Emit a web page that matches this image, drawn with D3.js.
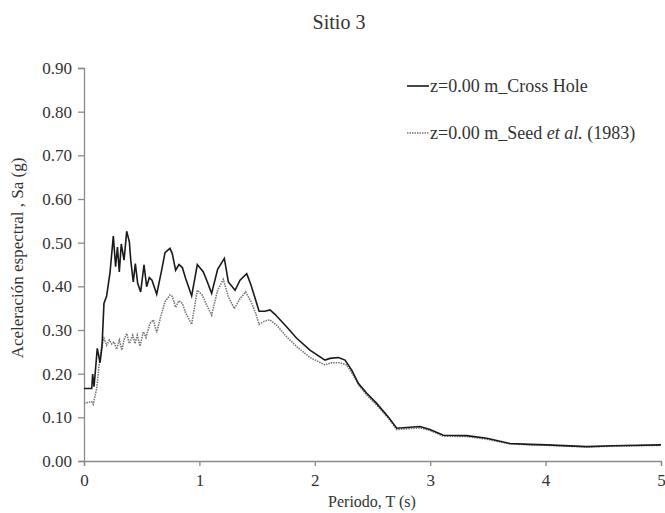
<!DOCTYPE html>
<html>
<head>
<meta charset="utf-8">
<script src="https://cdn.jsdelivr.net/npm/d3@7"></script>
<style>
  body { margin: 0; background: #fff; }
  svg text { font-family: "Liberation Serif", "DejaVu Serif", serif; fill: #333; }
</style>
</head>
<body>
<svg id="chart" width="665" height="513"></svg>
<script>
// Periodo T (s) and Sa (g)
const crossT = [0, 0.067, 0.075, 0.087, 0.115, 0.139, 0.156, 0.173, 0.196, 0.225, 0.254, 0.274, 0.29, 0.306, 0.323,
  0.347, 0.37, 0.393, 0.405, 0.427, 0.445, 0.465, 0.491, 0.52, 0.543, 0.566, 0.589, 0.63, 0.673, 0.702, 0.745,
  0.765, 0.794, 0.823, 0.852, 0.881, 0.933, 0.982, 1.034, 1.063, 1.106, 1.158, 1.216, 1.251, 1.309, 1.352, 1.41,
  1.447, 1.488, 1.517, 1.568, 1.612, 1.655, 1.757, 1.843, 1.958, 2.088, 2.132, 2.204, 2.262, 2.32, 2.377, 2.45,
  2.536, 2.637, 2.71, 2.912, 2.998, 3.114, 3.316, 3.49, 3.692, 3.865, 4.01, 4.356, 4.587, 5.0];
const crossSa = [0.166, 0.166, 0.199, 0.17, 0.258, 0.225, 0.262, 0.361, 0.378, 0.43, 0.515, 0.445, 0.49, 0.433, 0.497,
  0.46, 0.526, 0.502, 0.46, 0.41, 0.452, 0.407, 0.387, 0.449, 0.399, 0.42, 0.414, 0.382, 0.437, 0.477, 0.487,
  0.475, 0.437, 0.45, 0.443, 0.418, 0.378, 0.45, 0.433, 0.414, 0.384, 0.439, 0.464, 0.41, 0.391, 0.414, 0.429,
  0.403, 0.368, 0.343, 0.343, 0.346, 0.336, 0.307, 0.281, 0.254, 0.231, 0.235, 0.237, 0.231, 0.208, 0.178, 0.155,
  0.132, 0.101, 0.075, 0.079, 0.072, 0.059, 0.058, 0.052, 0.04, 0.038, 0.037, 0.033, 0.035, 0.037];

const seedT = [0, 0.067, 0.08, 0.11, 0.133, 0.153, 0.173, 0.196, 0.219, 0.24, 0.26, 0.283, 0.306, 0.329, 0.347,
  0.37, 0.393, 0.422, 0.442, 0.462, 0.485, 0.514, 0.537, 0.572, 0.601, 0.63, 0.664, 0.702, 0.745, 0.765, 0.794,
  0.823, 0.852, 0.881, 0.933, 0.982, 1.025, 1.063, 1.106, 1.158, 1.207, 1.251, 1.303, 1.352, 1.401, 1.447, 1.488,
  1.517, 1.568, 1.612, 1.67, 1.757, 1.843, 1.958, 2.088, 2.146, 2.218, 2.276, 2.328, 2.386, 2.45, 2.536, 2.637,
  2.71, 2.912, 2.998, 3.114, 3.316, 3.49, 3.692, 3.865, 4.01, 4.356, 4.587, 5.0];
const seedSa = [0.132, 0.136, 0.13, 0.166, 0.224, 0.262, 0.281, 0.265, 0.277, 0.268, 0.273, 0.256, 0.277, 0.254, 0.278,
  0.292, 0.269, 0.288, 0.269, 0.288, 0.263, 0.296, 0.283, 0.315, 0.323, 0.294, 0.33, 0.365, 0.38, 0.377, 0.352,
  0.367, 0.361, 0.339, 0.313, 0.391, 0.38, 0.357, 0.334, 0.391, 0.416, 0.376, 0.349, 0.372, 0.387, 0.365, 0.338,
  0.313, 0.321, 0.323, 0.311, 0.284, 0.262, 0.237, 0.22, 0.225, 0.225, 0.22, 0.199, 0.172, 0.151, 0.128, 0.098,
  0.072, 0.076, 0.07, 0.057, 0.056, 0.05, 0.039, 0.037, 0.036, 0.032, 0.034, 0.036];

const xTicks = [0, 1, 2, 3, 4, 5];
const yTicks = [0, 0.1, 0.2, 0.3, 0.4, 0.5, 0.6, 0.7, 0.8, 0.9];
const legendLabels = ["z=0.00 m_Cross Hole", "z=0.00 m_Seed "];

const svg = d3.select("#chart");
const margin = { left: 84, right: 4, top: 68, bottom: 52 };
const W = 665, H = 513;

const x = d3.scaleLinear().domain([0, 5]).range([margin.left, W - margin.right]);
const y = d3.scaleLinear().domain([0, 0.9]).range([H - margin.bottom, margin.top]);

const axisColor = "#8a8a8a";

const gx = svg.append("g")
    .attr("transform", `translate(0,${y(0)})`)
    .call(d3.axisBottom(x).tickValues(xTicks).tickFormat(d3.format("d")).tickSize(5).tickPadding(8));
const gy = svg.append("g")
    .attr("transform", `translate(${x(0)},0)`)
    .call(d3.axisLeft(y).tickValues(yTicks).tickFormat(d3.format(".2f")).tickSize(6).tickPadding(6));

[gx, gy].forEach(g => {
    g.select(".domain").attr("stroke", axisColor).attr("stroke-width", 1.3);
    g.selectAll(".tick line").attr("stroke", axisColor).attr("stroke-width", 1.3);
    g.selectAll(".tick text").attr("font-size", 17).attr("fill", "#333")
        .attr("font-family", "Liberation Serif, serif");
});

svg.append("text")
    .attr("x", 339).attr("y", 29)
    .attr("text-anchor", "middle").attr("font-size", 20)
    .text("Sitio 3");

svg.append("text")
    .attr("x", 372).attr("y", 507)
    .attr("text-anchor", "middle").attr("font-size", 16)
    .text("Periodo, T (s)");

svg.append("text")
    .attr("transform", "translate(23,258) rotate(-90)")
    .attr("text-anchor", "middle").attr("font-size", 17)
    .text("Aceleración espectral , Sa (g)");

const line = d3.line().x(d => x(d[0])).y(d => y(d[1]));

svg.append("path")
    .datum(seedT.map((t, i) => [t, seedSa[i]]))
    .attr("d", line)
    .attr("fill", "none")
    .attr("stroke", "#777")
    .attr("stroke-width", 1.6)
    .attr("stroke-dasharray", "1.5,1");

svg.append("path")
    .datum(crossT.map((t, i) => [t, crossSa[i]]))
    .attr("d", line)
    .attr("fill", "none")
    .attr("stroke", "#1a1a1a")
    .attr("stroke-width", 1.6);

// legend
const lg = svg.append("g");
lg.append("line").attr("x1", 407).attr("x2", 429).attr("y1", 86).attr("y2", 86)
    .attr("stroke", "#1a1a1a").attr("stroke-width", 1.6);
lg.append("text").attr("x", 430).attr("y", 92).attr("font-size", 18).text(legendLabels[0]);

lg.append("line").attr("x1", 407).attr("x2", 429).attr("y1", 133).attr("y2", 133)
    .attr("stroke", "#777").attr("stroke-width", 1.6).attr("stroke-dasharray", "1.5,1");
const t2 = lg.append("text").attr("x", 430).attr("y", 139).attr("font-size", 18);
t2.append("tspan").text(legendLabels[1]);
t2.append("tspan").attr("font-style", "italic").text("et al.");
t2.append("tspan").text(" (1983)");
</script>
</body>
</html>
